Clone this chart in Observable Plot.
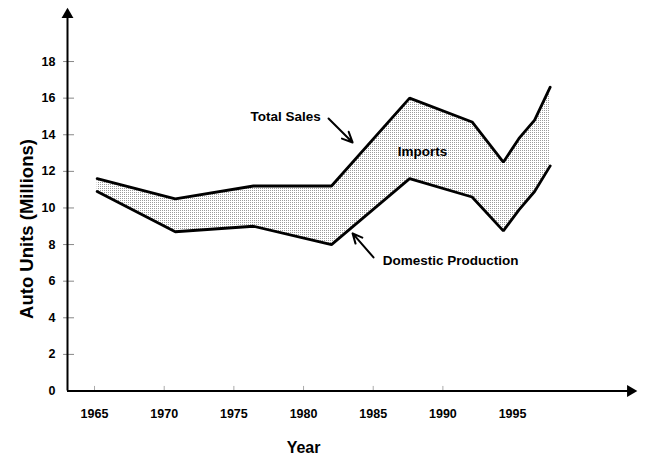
<!DOCTYPE html>
<html><head><meta charset="utf-8">
<script src="https://cdn.jsdelivr.net/npm/d3@7"></script>
<script src="https://cdn.jsdelivr.net/npm/@observablehq/plot@0.6"></script>
<style>body{margin:0;background:#fff}</style>
</head><body><div id="chart"></div>
<script>
// ---- data ----
const years = [1965, 1970, 1975, 1980, 1985, 1989, 1991, 1992, 1993, 1994];
const totalSales = [11.6, 10.5, 11.2, 11.2, 16.0, 14.7, 12.5, 13.8, 14.8, 16.6];
const domesticProduction = [10.9, 8.7, 9.0, 8.0, 11.6, 10.6, 8.75, 9.9, 10.9, 12.3];
const yTicks = [0, 2, 4, 6, 8, 10, 12, 14, 16, 18];
const xTickLabels = [1965, 1970, 1975, 1980, 1985, 1990, 1995];
const yTitle = "Auto Units (Millions)";
const xTitle = "Year";
const notes = ["Total Sales", "Imports", "Domestic Production"];

// ---- layout constants (axis frame in data units) ----
const X0 = 1963.1, X1 = 1999.14, Y1 = 20.57;
// printed year labels sit on their own spacing along the axis
const axisPos = (label) => 1964.83 + (label - 1965) * 0.892;
const axisLabel = (pos) => String(Math.round(1965 + (pos - 1964.83) / 0.892));

const table = years.map((y, i) => ({year: y, total: totalSales[i], domestic: domesticProduction[i]}));

const font = "'Liberation Sans Narrow', 'Arial Narrow', 'Liberation Sans', sans-serif";

const chart = Plot.plot({
  width: 646,
  height: 457,
  marginLeft: 67,
  marginRight: 16,
  marginTop: 14,
  marginBottom: 66.5,
  style: {fontFamily: font, fontWeight: "bold", background: "white", color: "black"},
  x: {domain: [X0, X1]},
  y: {domain: [0, Y1]},
  marks: [
    Plot.areaY(table, {x: "year", y1: "domestic", y2: "total", fill: "url(#stipple)"}),
    Plot.line(table, {x: "year", y: "total", stroke: "black", strokeWidth: 2.8, strokeLinejoin: "miter"}),
    Plot.line(table, {x: "year", y: "domestic", stroke: "black", strokeWidth: 2.8, strokeLinejoin: "miter"}),
    // axes
    Plot.ruleY(yTicks.slice(1), {x1: X0 - 0.25, x2: X0 + 0.45, stroke: "#888", strokeWidth: 1}),
    Plot.ruleX(xTickLabels.slice(0, 6).map(axisPos), {y1: 0, y2: 0.25, stroke: "#aaa", strokeWidth: 1}),
    Plot.axisY(yTicks, {tickSize: 0, tickPadding: 12, fontSize: 12.5, label: null}),
    Plot.axisX(xTickLabels.map(axisPos), {tickSize: 0, tickPadding: 18, fontSize: 12.5, label: null, tickFormat: axisLabel}),
    Plot.ruleX([X0], {y1: 0, y2: Y1, stroke: "black", strokeWidth: 2}),
    Plot.ruleY([0], {x1: X0, x2: X1, stroke: "black", strokeWidth: 2}),
    Plot.dot([[X0, Y1]], {x: d => d[0], y: d => d[1], symbol: "triangle", r: 4.4, fill: "black", stroke: null}),
    Plot.dot([[X1, 0]], {x: d => d[0], y: d => d[1], symbol: "triangle", r: 4.4, fill: "black", stroke: null, rotate: 90}),
    // titles
    Plot.text([yTitle], {x: 1960.54, y: 8.85, text: d => d, rotate: -90, fontSize: 18.5, fill: "black"}),
    Plot.text([xTitle], {x: 1978.21, y: -3.09, text: d => d, fontSize: 16, fill: "black"}),
    // annotations
    Plot.text([notes[0]], {x: 1977.06, y: 15.0, text: d => d, fontSize: 13.5, fill: "black"}),
    Plot.text([notes[1]], {x: 1985.83, y: 13.09, text: d => d, fontSize: 13.5, fill: "black"}),
    Plot.text([notes[2]], {x: 1987.62, y: 7.13, text: d => d, fontSize: 13.5, fill: "black"}),
    Plot.arrow([[1979.81, 14.89, 1981.35, 13.58]], {x1: d => d[0], y1: d => d[1], x2: d => d[2], y2: d => d[3], stroke: "black", strokeWidth: 2, headLength: 9, headAngle: 50}),
    Plot.arrow([[1982.69, 7.30, 1981.35, 8.61]], {x1: d => d[0], y1: d => d[1], x2: d => d[2], y2: d => d[3], stroke: "black", strokeWidth: 2, headLength: 9, headAngle: 50})
  ]
});

const svg = d3.select(chart);
const pat = svg.insert("defs", ":first-child")
  .append("pattern")
  .attr("id", "stipple")
  .attr("patternUnits", "userSpaceOnUse")
  .attr("width", 2).attr("height", 2);
pat.append("rect").attr("width", 2).attr("height", 2).attr("fill", "white");
pat.append("rect").attr("width", 1).attr("height", 1).attr("fill", "#9a9a9a");

document.getElementById("chart").appendChild(chart);
</script>
</body></html>
